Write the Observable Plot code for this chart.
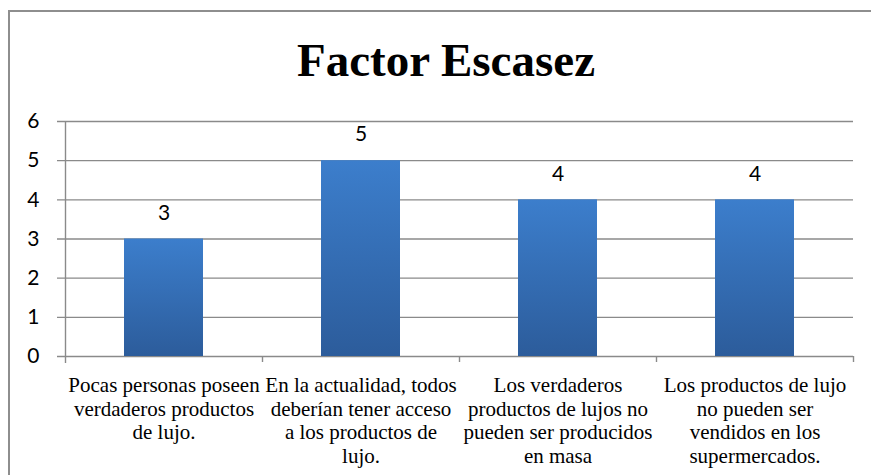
<!DOCTYPE html>
<html><head><meta charset="utf-8">
<script src="https://cdn.jsdelivr.net/npm/d3@7"></script>
<script src="https://cdn.jsdelivr.net/npm/@observablehq/plot@0.6"></script>
<style>
html,body{margin:0;padding:0;background:#fff;overflow:hidden}
#wrap{position:relative;width:871px;height:475px}
#border{position:absolute;left:8px;top:10px;width:900px;height:500px;border-left:2px solid #8e8e8e;border-top:2px solid #8e8e8e;box-sizing:border-box}
#title{position:absolute;left:0;top:37px;width:892px;text-align:center;font-family:"Liberation Serif","Times New Roman",serif;font-weight:bold;font-size:47px;line-height:47px;color:#000;margin:0}
#chart{position:absolute;left:0;top:0}
</style>
</head><body>
<div id="wrap"><div id="border"></div><div id="chart"></div><div id="title">Factor Escasez</div></div>
<script>
const categories = [
  "Pocas personas poseen\nverdaderos productos\nde lujo.",
  "En la actualidad, todos\ndeberían tener acceso\na los productos de\nlujo.",
  "Los verdaderos\nproductos de lujos no\npueden ser producidos\nen masa",
  "Los productos de lujo\nno pueden ser\nvendidos en los\nsupermercados."
];
const values = [3, 5, 4, 4];
const yTicks = [0, 1, 2, 3, 4, 5, 6];

const data = categories.map((c, i) => ({cat: c, value: values[i]}));

const W = 871, H = 475, mL = 65, mR = 18, mT = 121, mB = 119;
const step = (W - mL - mR) / categories.length;
const unitPx = (H - mT - mB) / 6;
const tickDown = -6 / unitPx;
const axisDown = -7 / unitPx;
const grid = "#8a8a8a";
const serif = "Liberation Serif";

const plot = Plot.plot({
  width: W, height: H,
  marginLeft: mL, marginRight: mR, marginTop: mT, marginBottom: mB,
  style: {background: "transparent", color: "#000"},
  x: {domain: categories, paddingInner: 0.6, paddingOuter: 0.3, axis: null},
  y: {domain: [0, 6], axis: null},
  marks: [
    Plot.ruleY(yTicks, {stroke: grid, strokeWidth: 1.4, insetLeft: -8}),
    Plot.barY(data, {x: "cat", y: "value", fill: "url(#barGrad)", style: "filter: drop-shadow(2px 2px 2px rgba(0,0,0,0.25))"}),
    Plot.ruleX([categories[0]], {x: d => d, dx: -step / 2, y1: axisDown, y2: 6, stroke: grid, strokeWidth: 1.4}),
    Plot.ruleX(categories.slice(1), {x: d => d, dx: -step / 2, y1: tickDown, y2: 0, stroke: grid, strokeWidth: 1.4}),
    Plot.ruleX([categories[categories.length - 1]], {x: d => d, dx: step / 2, y1: tickDown, y2: 0, stroke: grid, strokeWidth: 1.4}),
    Plot.axisY(yTicks, {tickSize: 0, tickPadding: 26, fontSize: 21, fontFamily: "Lato", label: null, fill: "#000"}),
    Plot.text(data, {x: "cat", y: "value", text: d => String(d.value), dy: -26, fontSize: 21, fontFamily: "Lato", fill: "#000"}),
    Plot.text(data, {x: "cat", y: 0, text: "cat", lineAnchor: "top", dy: 19, lineHeight: 1.12, fontSize: 21, fontFamily: serif, fill: "#000"})
  ]
});

const ns = "http://www.w3.org/2000/svg";
const defs = document.createElementNS(ns, "defs");
const lg = document.createElementNS(ns, "linearGradient");
lg.setAttribute("id", "barGrad");
lg.setAttribute("x1", "0"); lg.setAttribute("y1", "0"); lg.setAttribute("x2", "0"); lg.setAttribute("y2", "1");
[["0%", "#3c7ecc"], ["100%", "#2c5c9b"]].forEach(([o, c]) => {
  const s = document.createElementNS(ns, "stop");
  s.setAttribute("offset", o); s.setAttribute("stop-color", c);
  lg.appendChild(s);
});
defs.appendChild(lg);
plot.insertBefore(defs, plot.firstChild);
document.getElementById("chart").appendChild(plot);
</script>
</body></html>
